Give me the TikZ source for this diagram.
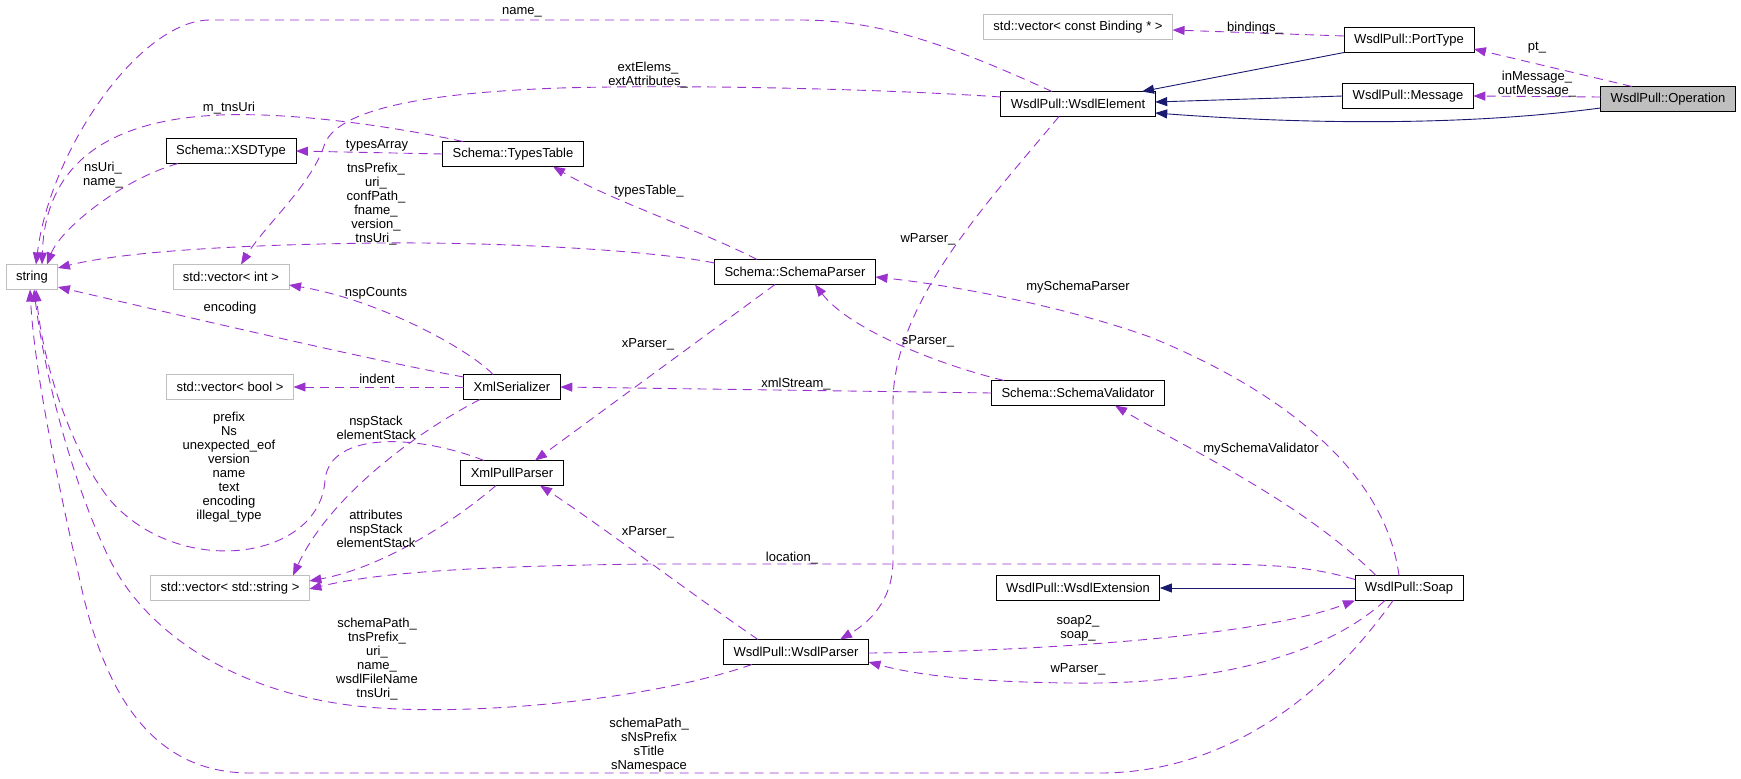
\documentclass[tikz,border=0pt]{standalone}
\usepackage{fontspec}
\setmainfont{Liberation Sans}
\usepackage{tikz}
\usetikzlibrary{arrows.meta}
\definecolor{dxEdge}{RGB}{154, 50,205}
\definecolor{dxBase}{RGB}{ 25, 25,112}
\definecolor{dxGrey}{RGB}{191,191,191}

\begin{document}
\begin{tikzpicture}[
  x=1pt,y=-1pt,
  every node/.style={font=\fontsize{13}{14}\selectfont},
  cls/.style={draw=black,line width=0.8pt,minimum height=25pt,
              inner xsep=10pt,inner ysep=0pt,outer sep=0pt},
  ext/.style={cls,draw=dxGrey},
  cur/.style={cls,fill=dxGrey},
  lbl/.style={align=center,inner sep=0pt},
  use/.style={dxEdge,line width=0.9pt,dash pattern=on 9pt off 6pt,
              -{Triangle[length=12pt,width=9pt]}},
  inh/.style={dxBase,line width=0.9pt,-{Triangle[length=12pt,width=9pt]}}
]
\useasboundingbox (0,0) rectangle (1741,779);
% Column 1
\node[ext] (str)   at (32,277)   {string};
% Column 2
\node[cls] (xsd)   at (231,151)  {Schema::XSDType};
\node[ext] (vint)  at (231,277)  {std::vector< int >};
\node[ext] (vbool) at (230,387)  {std::vector< bool >};
\node[ext] (vstr)  at (230,588)  {std::vector< std::string >};
% Column 3
\node[cls] (types) at (513,154)  {Schema::TypesTable};
\node[cls] (xser)  at (512,387)  {XmlSerializer};
\node[cls] (xpull) at (512,473)  {XmlPullParser};
% Column 4
\node[cls] (spars) at (795,272)  {Schema::SchemaParser};
\node[cls] (wpars) at (796,652)  {WsdlPull::WsdlParser};
% Column 5
\node[ext] (vbind) at (1078,27)  {std::vector< const Binding * >};
\node[cls] (welem) at (1078,104) {WsdlPull::WsdlElement};
\node[cls] (sval)  at (1078,393) {Schema::SchemaValidator};
\node[cls] (wext)  at (1078,588) {WsdlPull::WsdlExtension};
% Column 6
\node[cls] (ptype) at (1409,40)  {WsdlPull::PortType};
\node[cls] (msg)   at (1408,96)  {WsdlPull::Message};
\node[cls] (soap)  at (1409,588) {WsdlPull::Soap};
% Column 7
\node[cur] (oper)  at (1668,99)  {WsdlPull::Operation};
% Inheritance
\draw[inh] (ptype.south west) -- ([xshift=64pt]welem.north);
\draw[inh] (msg.west) -- ([yshift=2pt]welem.east);
\draw[inh] ([yshift=-9pt]oper.west) .. controls (1480,124) and (1330,126) .. ([yshift=-9pt]welem.east);
\draw[inh] (soap.west) -- (wext.east);
% Usage, top right
\draw[use] ([yshift=4pt]ptype.west) -- ([yshift=-3pt]vbind.east);
\draw[use] ([xshift=-36pt]oper.north) -- ([yshift=-9pt]ptype.east);
\draw[use] ([yshift=2pt]oper.west) -- (msg.east);
% Usage, to string and its neighbours
\draw[use] ([xshift=-26pt]welem.north) .. controls (950,45) and (880,20) .. (800,20)
  -- (210,20) .. controls (140,20) and (50,150) .. ([xshift=4pt]str.north);
\draw[use] ([xshift=-50pt]types.north) .. controls (400,128) and (300,112) .. (220,115)
  .. controls (100,120) and (45,170) .. ([xshift=10pt]str.north);
\draw[use] ([xshift=-53pt]xsd.south) .. controls (120,180) and (60,230) .. ([xshift=15pt]str.north);
\draw[use] ([yshift=7pt]welem.west) .. controls (900,90) and (700,84) .. (560,88)
  .. controls (420,93) and (340,110) .. (325,143)
  .. controls (312,185) and (265,225) .. ([xshift=10pt]vint.north);
\draw[use] (types.west) -- (xsd.east);
\draw[use] ([yshift=9pt]spars.west) .. controls (650,250) and (500,242) .. (380,243)
  .. controls (200,245) and (110,255) .. ([yshift=9pt]str.east);
\draw[use] ([xshift=-19pt]xser.north) .. controls (470,350) and (380,300) .. ([yshift=-8pt]vint.east);
\draw[use] ([yshift=10pt]xser.west) .. controls (380,362) and (200,320) .. ([yshift=-10pt]str.east);
\draw[use] (xser.west) -- (vbool.east);
\draw[use] (sval.west) -- (xser.east);
\draw[use] ([xshift=-28pt]xpull.north) .. controls (420,435) and (330,430) .. (325,480)
  .. controls (320,560) and (180,580) .. (110,500)
  .. controls (70,450) and (42,360) .. ([xshift=4pt]str.south);
\draw[use] ([xshift=-32pt]xser.south) .. controls (420,430) and (330,495) .. ([xshift=63pt]vstr.north);
\draw[use] ([xshift=-16pt]xpull.south) .. controls (450,525) and (380,568) .. ([yshift=7pt]vstr.east);
\draw[use] ([yshift=-4pt]soap.north west) .. controls (1300,563) and (1250,564) .. (1150,564)
  -- (650,564) .. controls (480,566) and (380,572) .. ([yshift=-1pt]vstr.east);
% Usage, parsers and validator
\draw[use] ([xshift=-20pt]spars.south) -- ([xshift=23pt]xpull.north);
\draw[use] ([xshift=-38pt]spars.north) .. controls (700,230) and (610,200) .. ([xshift=40pt]types.south);
\draw[use] ([xshift=-74pt]sval.north) .. controls (940,365) and (850,330) .. ([xshift=20pt]spars.south);
\draw[use] ([xshift=-10pt]soap.north) .. controls (1385,470) and (1280,390) .. (1150,337)
  .. controls (1060,305) and (950,285) .. ([yshift=-5pt]spars.east);
\draw[use] ([xshift=-33pt]soap.north) .. controls (1300,500) and (1180,445) .. ([xshift=37pt]sval.south);
\draw[use] ([xshift=-19pt]welem.south) .. controls (990,200) and (895,300) .. (893,400)
  -- (893,560) .. controls (893,600) and (870,622) .. ([xshift=44pt]wpars.north);
\draw[use] ([xshift=-38pt]wpars.north) .. controls (700,600) and (600,525) .. ([xshift=28pt]xpull.south);
\draw[use] ([yshift=-1pt]wpars.east) .. controls (1000,652) and (1250,640) .. ([xshift=-54pt]soap.south);
\draw[use] ([xshift=-24pt]soap.south) .. controls (1320,660) and (1200,685) .. (1070,683)
  .. controls (980,682) and (920,676) .. ([yshift=-10pt]wpars.east);
\draw[use] ([xshift=-44pt]wpars.south) .. controls (650,700) and (480,715) .. (380,708)
  .. controls (250,700) and (150,640) .. (110,560)
  .. controls (75,490) and (45,380) .. ([xshift=2pt]str.south);
\draw[use] ([xshift=-16pt]soap.south) .. controls (1330,690) and (1230,773) .. (1100,773)
  -- (250,773) .. controls (150,773) and (105,690) .. (82,590)
  .. controls (62,500) and (35,380) .. ([xshift=-2pt]str.south);
% Edge labels
\node[lbl] (l-name)  at (522,12)   {name\_};
\node[lbl] (l-ext)   at (648,75)   {extElems\_\\extAttributes\_};
\node[lbl] (l-mtns)  at (229,108)  {m\_tnsUri};
\node[lbl] (l-tarr)  at (377,145)  {typesArray};
\node[lbl] (l-xsd)   at (103,175)  {nsUri\_\\name\_};
\node[lbl] (l-spars) at (376,204)  {tnsPrefix\_\\uri\_\\confPath\_\\fname\_\\version\_\\tnsUri\_};
\node[lbl] (l-ttab)  at (649,191)  {typesTable\_};
\node[lbl] (l-wpar)  at (928,239)  {wParser\_};
\node[lbl] (l-mysp)  at (1078,287) {mySchemaParser};
\node[lbl] (l-nspc)  at (376,293)  {nspCounts};
\node[lbl] (l-enc)   at (230,308)  {encoding};
\node[lbl] (l-xp1)   at (648,344)  {xParser\_};
\node[lbl] (l-sp)    at (928,341)  {sParser\_};
\node[lbl] (l-ind)   at (377,379)  {indent};
\node[lbl] (l-xml)   at (796,384)  {xmlStream\_};
\node[lbl] (l-xsst)  at (376,428)  {nspStack\\elementStack};
\node[lbl] (l-xpstr) at (229,467)  {prefix\\Ns\\unexpected\_eof\\version\\name\\text\\encoding\\illegal\_type};
\node[lbl] (l-mysv)  at (1261,449) {mySchemaValidator};
\node[lbl] (l-xpst)  at (376,529)  {attributes\\nspStack\\elementStack};
\node[lbl] (l-xp2)   at (648,532)  {xParser\_};
\node[lbl] (l-loc)   at (792,558)  {location\_};
\node[lbl] (l-wpstr) at (377,659)  {schemaPath\_\\tnsPrefix\_\\uri\_\\name\_\\wsdlFileName\\tnsUri\_};
\node[lbl] (l-soap)  at (1078,628) {soap2\_\\soap\_};
\node[lbl] (l-wpar2) at (1078,669) {wParser\_};
\node[lbl] (l-sostr) at (649,745)  {schemaPath\_\\sNsPrefix\\sTitle\\sNamespace};
\node[lbl] (l-bind)  at (1255,28)  {bindings\_};
\node[lbl] (l-pt)    at (1537,48)  {pt\_};
\node[lbl] (l-msg)   at (1537,84)  {inMessage\_\\outMessage\_};
\end{tikzpicture}
\end{document}
